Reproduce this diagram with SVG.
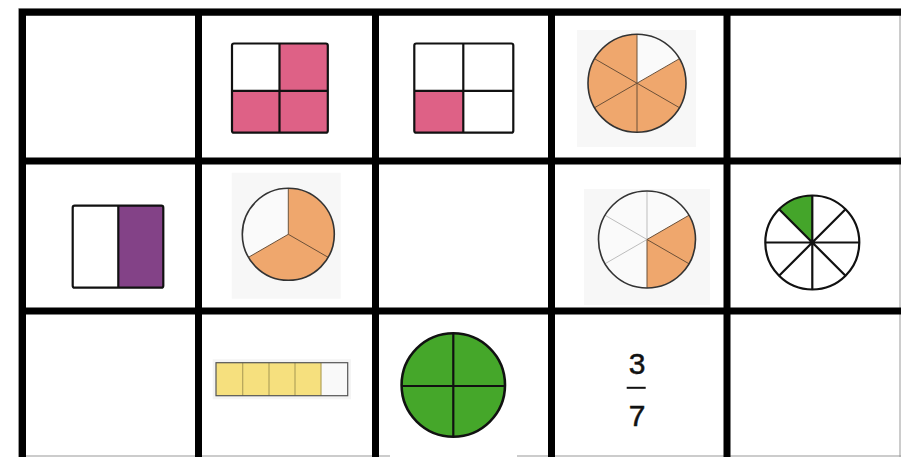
<svg xmlns="http://www.w3.org/2000/svg" width="901" height="457" viewBox="0 0 901 457">
<defs>
<style>
.grid{stroke:#000;stroke-width:7;fill:none}
.thin{stroke:#999;stroke-width:1;fill:none}
.box{stroke:#111;stroke-width:2.2;stroke-linejoin:round}
.pink{fill:#DE6186}
.wht{fill:#fff}
.bg{fill:#F7F7F7}
.org{fill:#EFA76D}
.pale{fill:#FAFAFA}
.rim{fill:none;stroke:#333;stroke-width:1.6}
.dk{stroke:#6b5038;stroke-width:1}
.lt{stroke:#bdbdbd;stroke-width:1}
.blk{stroke:#111;stroke-width:2.2;fill:none}
.frac{font-family:"Liberation Sans",Arial,sans-serif;font-size:30px;fill:#111;stroke:#111;stroke-width:0.5;text-anchor:middle}
</style>
</defs>
<rect width="901" height="457" fill="#fff"/>

<g id="connectors">
<path class="thin" d="M18.5,8.5H901M18.5,8.5V457M900,8.5V457M18.5,456H390M517,456H901"/>
<path class="grid" d="M19,12.3H901M19,161H901M19,311H901"/>
<path class="grid" d="M22.5,9V457M198.5,9V457M375.5,9V457M551.5,9V457M727,9V457"/>
</g>

<g id="r1c2">
<rect class="wht" x="232" y="43.5" width="47.5" height="47.3"/>
<rect class="pink" x="279.5" y="43.5" width="48.3" height="47.3"/>
<rect class="pink" x="232" y="90.8" width="47.5" height="41.9"/>
<rect class="pink" x="279.5" y="90.8" width="48.3" height="41.9"/>
<rect class="box" x="232" y="43.5" width="95.8" height="89.2" rx="2" fill="none"/>
<path class="blk" d="M279.5,43.5V132.7M232,90.8H327.8"/>
</g>

<g id="r1c3">
<rect class="wht" x="414.3" y="43.5" width="99" height="89.2"/>
<rect class="pink" x="414.3" y="90.8" width="49" height="41.9"/>
<rect class="box" x="414.3" y="43.5" width="99" height="89.2" rx="2" fill="none"/>
<path class="blk" d="M463.3,43.5V132.7M414.3,90.8H513.3"/>
</g>

<g id="r1c4">
<rect class="bg" x="577" y="30" width="119" height="117"/>
<path class="org" d="M637,83.2L679.44,58.7A49,49 0 1 1 637,34.2Z"/>
<path class="pale" d="M637,83.2L637,34.2A49,49 0 0 1 679.44,58.7Z"/>
<path class="dk" d="M637,34.2V132.2M679.44,58.7L594.56,107.7M679.44,107.7L594.56,58.7"/>
<circle class="rim" cx="637" cy="83.2" r="49"/>
</g>

<g id="r2c1">
<rect class="wht" x="72.7" y="205.7" width="45.6" height="82"/>
<rect x="118.3" y="205.7" width="45" height="82" fill="#834287"/>
<rect class="box" x="72.7" y="205.7" width="90.6" height="82" rx="2" fill="none"/>
<path class="blk" d="M118.3,205.7V287.7" stroke="#555"/>
</g>

<g id="r2c2">
<rect class="bg" x="231.7" y="172.7" width="109" height="126"/>
<path class="org" d="M288.3,234.3L288.3,188.3A46,46 0 1 1 248.46,257.3Z"/>
<path class="pale" d="M288.3,234.3L248.46,257.3A46,46 0 0 1 288.3,188.3Z"/>
<path class="dk" d="M288.3,234.3L288.3,188.3M288.3,234.3L328.14,257.3M288.3,234.3L248.46,257.3"/>
<circle class="rim" cx="288.3" cy="234.3" r="46"/>
</g>

<g id="r2c4">
<rect class="bg" x="584" y="189" width="126" height="116"/>
<circle class="pale" cx="647" cy="239.5" r="48.5"/>
<path class="org" d="M647,239.5L689,215.25A48.5,48.5 0 0 1 647,288Z"/>
<path class="lt" d="M647,239.5L647,191M647,239.5L605,263.75M647,239.5L605,215.25"/>
<path class="dk" d="M647,239.5L689,215.25M647,239.5L689,263.75M647,239.5L647,288"/>
<circle class="rim" cx="647" cy="239.5" r="48.5"/>
</g>

<g id="r2c5">
<circle class="wht" cx="812.3" cy="242.5" r="47"/>
<path d="M812.3,242.5L779.07,209.27A47,47 0 0 1 812.3,195.5Z" fill="#44A52A"/>
<path class="blk" d="M812.3,195.5V289.5M765.3,242.5H859.3M779.07,209.27L845.53,275.73M845.53,209.27L779.07,275.73"/>
<circle class="blk" cx="812.3" cy="242.5" r="47" stroke-width="2.6"/>
</g>

<g id="r3c2">
<rect x="212.7" y="359.3" width="138.3" height="40" fill="#F4F4F4"/>
<rect x="216" y="362.7" width="105" height="33" fill="#F6E07E"/>
<rect x="321" y="362.7" width="26.7" height="33" fill="#F9F9F9"/>
<path d="M242.7,362.7V395.7M269,362.7V395.7M295,362.7V395.7M321,362.7V395.7" stroke="#B3A35A" stroke-width="1.2"/>
<rect x="216" y="362.7" width="131.7" height="33" fill="none" stroke="#555" stroke-width="1.2"/>
</g>

<g id="r3c3">
<circle cx="453.3" cy="385" r="51.7" fill="#45A72A" stroke="#111" stroke-width="2.6"/>
<path class="blk" d="M453.3,333.3V436.7M401.6,386H505" stroke-width="2.4"/>
</g>

<g id="r3c4">
<text class="frac" x="637" y="374.3">3</text>
<rect x="626.7" y="386.8" width="19" height="2" fill="#111"/>
<text class="frac" x="637" y="426">7</text>
</g>
</svg>
